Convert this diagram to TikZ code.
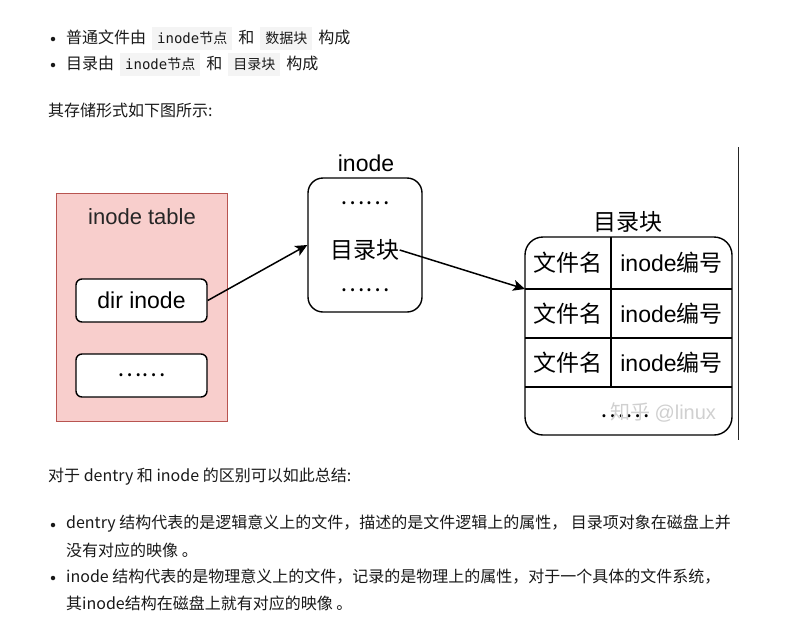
\documentclass[tikz,border=0pt]{standalone}
\usepackage{fontspec}
\setmainfont{Noto Sans CJK SC}
\newfontfamily\dia{Liberation Sans}
\newfontfamily\mono{DejaVu Sans Mono}
\usetikzlibrary{arrows.meta}
\definecolor{txt}{HTML}{191919}
\definecolor{codebg}{HTML}{F4F4F4}
\definecolor{tablefill}{HTML}{F8CECC}
\definecolor{tabledraw}{HTML}{B85450}
\definecolor{wmark}{HTML}{D0D0D0}
\newcommand{\codebox}[1]{\hspace{6pt}{\setlength{\fboxsep}{0pt}\colorbox{codebg}{\fontsize{14}{16}\selectfont\rule[-6pt]{0pt}{23pt}\hspace{5pt}#1\hspace{5pt}}}\hspace{6pt}}

\tikzset{
    body/.style={anchor=west, inner sep=0pt, text=txt, font=\fontsize{16}{20}\selectfont},
    bul/.style={circle, fill=txt, inner sep=0pt, minimum size=4.5pt},
    dtext/.style={inner sep=0pt, font=\fontsize{23}{27}\selectfont},
    rbox/.style={draw, line width=1.4pt, fill=white, rounded corners=#1, dtext, inner sep=0pt},
    rbox/.default=6pt,
    link/.style={-{Stealth[length=12pt,width=11pt,inset=3pt]}, line width=1.5pt}
}

\begin{document}
\begin{tikzpicture}[x=1pt,y=-1pt]
        \useasboundingbox[fill=white] (0,0) rectangle (795,630);
        % text above
        \node[bul] (b1) at (53,39) {};
        \node[body] (l1) at (66,38) {普通文件由\codebox{{\mono inode}节点}和\codebox{数据块}构成};
        \node[bul] (b2) at (53,65) {};
        \node[body] (l2) at (66,64) {目录由\codebox{{\mono inode}节点}和\codebox{目录块}构成};
        \node[body] (l3) at (48,110) {其存储形式如下图所示:};
        % inode table
        \node[draw=tabledraw, fill=tablefill, line width=1pt, minimum width=171pt, minimum height=228pt, inner sep=0pt] (itable) at (141.5,307) {};
        \node[dtext, font=\dia\fontsize{22}{26}\selectfont, text=black!85] (itabletitle) at (142,217) {inode table};
        \node[rbox, minimum width=131pt, minimum height=43pt] (dirinode) at (141.5,300.5) {\dia dir inode};
        \node[rbox, minimum width=131pt, minimum height=43pt] (moreinode) at (141.5,375.5) {……};
        % inode
        \node[dtext] (inodetitle) at (366,163) {\dia inode};
        \node[rbox=15pt, minimum width=114pt, minimum height=134pt] (inodebox) at (365,245) {};
        \node[dtext] (dots1) at (365,203) {……};
        \node[dtext] (dirblk) at (365,250) {目录块};
        \node[dtext] (dots2) at (365,290) {……};
        % dir block
        \node[dtext] (tabletitle) at (628,222) {目录块};
        \node[rbox=18pt, minimum width=207pt, minimum height=198pt] (dirtable) at (628.5,336) {};
        \foreach \y/\n in {263/1, 313.5/2, 362.5/3} {
            \node[dtext] (fname\n) at (568,\y) {文件名};
            \node[dtext] (fino\n) at (671.5,\y) {{\dia inode}编号};
        }
        \foreach \y in {289,338,387}
            \draw[line width=1.4pt] (525,\y) -- (732,\y);
        \draw[line width=1.4pt] (611,237) -- (611,387);
        \node[dtext] (tdots) at (625,416) {……};
        \node[inner sep=0pt, text=wmark, font=\fontsize{20}{24}\selectfont] (wmark) at (663,412) {知乎 {\dia @linux}};
        \coordinate (rowgap) at (525,289);
        \draw[link] (dirinode.east) -- (inodebox.west);
        \draw[link] (dirblk.east) -- (rowgap);
        \draw[line width=1pt, black!85] (738,147) -- (738,440);
        % text below
        \node[body] (l4) at (48,477) {对于 dentry 和 inode 的区别可以如此总结:};
        \node[bul] (b3) at (53,525) {};
        \node[body] (l5) at (66,524) {dentry 结构代表的是逻辑意义上的文件，描述的是文件逻辑上的属性， 目录项对象在磁盘上并};
        \node[body] (l6) at (66,550) {没有对应的映像 。};
        \node[bul] (b4) at (53,578) {};
        \node[body] (l7) at (66,577) {inode 结构代表的是物理意义上的文件，记录的是物理上的属性，对于一个具体的文件系统，};
        \node[body] (l8) at (66,603) {其inode结构在磁盘上就有对应的映像 。};
\end{tikzpicture}
\end{document}
